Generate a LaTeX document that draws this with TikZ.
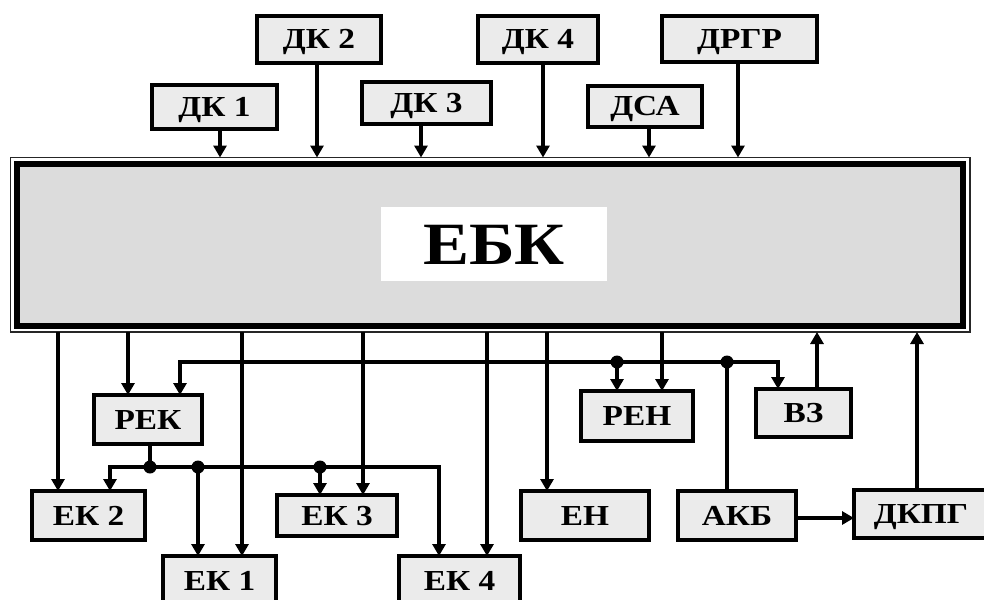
\documentclass[tikz,border=0pt]{standalone}
\usepackage{fontspec}
\setmainfont{Liberation Serif}[FakeStretch=1.15]
\usetikzlibrary{arrows.meta}
\definecolor{boxgray}{HTML}{EBEBEB}
\definecolor{maingray}{HTML}{DCDCDC}
\tikzset{
  blk/.style={draw=black, line width=4pt, fill=boxgray, rectangle, inner sep=0pt, outer sep=0pt,
    font=\fontsize{29}{29}\selectfont\bfseries, text height=19pt, text depth=0pt},
  con/.style={line width=3.5pt, draw=black},
  arr/.style={con, -{Triangle[length=12pt,width=13pt]}},
  dotn/.style={circle, fill=black, inner sep=0pt, minimum size=13pt},
}
\begin{document}
\begin{tikzpicture}[x=1pt,y=-1pt]
\path[use as bounding box] (0,0) rectangle (984,599);
\clip (0,0) rectangle (984,599);
\fill[white] (0,0) rectangle (984,599);
% main block
\node[draw=black!85, line width=1.5pt, rectangle, inner sep=0pt, outer sep=0pt,
  minimum width=959.5pt, minimum height=174.5pt] (ebk) at (490.25,244.75) {};
\draw[line width=6pt, fill=maingray] (16.5,164) rectangle (962.5,325.5);
\node[fill=white, minimum width=226pt, minimum height=74pt, inner sep=0pt,
  font=\fontsize{60}{60}\selectfont\bfseries, text height=40pt, text depth=0pt] (ebklabel) at (494,244) {ЕБК};
% top boxes
\node[blk, minimum width=125pt, minimum height=44pt] (dk1) at (214.5,107) {ДК 1};
\node[blk, minimum width=124pt, minimum height=47pt] (dk2) at (319,39.5) {ДК 2};
\node[blk, minimum width=129pt, minimum height=42pt] (dk3) at (426.5,103) {ДК 3};
\node[blk, minimum width=120pt, minimum height=47pt] (dk4) at (538,39.5) {ДК 4};
\node[blk, minimum width=114pt, minimum height=41pt] (dsa) at (645,106.5) {ДСА};
\node[blk, minimum width=155pt, minimum height=46pt] (drgr) at (739.5,39) {ДРГР};
% top arrows
\draw[arr] ([xshift=5.5pt]dk1.south) -- ([xshift=5.5pt]dk1.south |- ebk.north);
\draw[arr] ([xshift=-2pt]dk2.south) -- ([xshift=-2pt]dk2.south |- ebk.north);
\draw[arr] ([xshift=-5.5pt]dk3.south) -- ([xshift=-5.5pt]dk3.south |- ebk.north);
\draw[arr] ([xshift=5pt]dk4.south) -- ([xshift=5pt]dk4.south |- ebk.north);
\draw[arr] ([xshift=4pt]dsa.south) -- ([xshift=4pt]dsa.south |- ebk.north);
\draw[arr] ([xshift=-1.5pt]drgr.south) -- ([xshift=-1.5pt]drgr.south |- ebk.north);
% bottom boxes
\node[blk, minimum width=108pt, minimum height=49pt] (rek) at (148,419.5) {РЕК};
\node[blk, minimum width=113pt, minimum height=49pt] (ek2) at (88.5,515.5) {ЕК 2};
\node[blk, minimum width=113pt, minimum height=49pt] (ek1) at (219.5,580.5) {ЕК 1};
\node[blk, minimum width=120pt, minimum height=41pt] (ek3) at (337,515.5) {ЕК 3};
\node[blk, minimum width=121pt, minimum height=49pt] (ek4) at (459.5,580.5) {ЕК 4};
\node[blk, minimum width=128pt, minimum height=49pt] (en) at (585,515.5) {ЕН};
\node[blk, minimum width=112pt, minimum height=50pt] (ren) at (637,416) {РЕН};
\node[blk, minimum width=95pt, minimum height=48pt] (vz) at (803.5,413) {ВЗ};
\node[blk, minimum width=118pt, minimum height=49pt] (akb) at (737,515.5) {АКБ};
\node[blk, minimum width=134pt, minimum height=48pt] (dkpg) at (921,514) {ДКПГ};
% outputs of the main block
\draw[arr] ([xshift=-30.5pt]ek2.north |- ebk.south) -- ([xshift=-30.5pt]ek2.north);
\draw[arr] ([xshift=-20pt]rek.north |- ebk.south) -- ([xshift=-20pt]rek.north);
\draw[arr] ([xshift=22.5pt]ek1.north |- ebk.south) -- ([xshift=22.5pt]ek1.north);
\draw[arr] ([xshift=26pt]ek3.north |- ebk.south) -- ([xshift=26pt]ek3.north);
\draw[arr] ([xshift=27.5pt]ek4.north |- ebk.south) -- ([xshift=27.5pt]ek4.north);
\draw[arr] ([xshift=-38pt]en.north |- ebk.south) -- ([xshift=-38pt]en.north);
\draw[arr] ([xshift=25pt]ren.north |- ebk.south) -- ([xshift=25pt]ren.north);
% inputs to the main block
\draw[arr] ([xshift=13.5pt]vz.north) -- ([xshift=13.5pt]vz.north |- ebk.south);
\draw[arr] ([xshift=-4pt]dkpg.north) -- ([xshift=-4pt]dkpg.north |- ebk.south);
% upper bus (from АКБ)
\coordinate (b1L) at (180,362);
\coordinate (b1R) at (778,362);
\node[dotn] (d1) at (617,362) {};
\node[dotn] (d2) at (727,362) {};
\draw[con] ([xshift=-10pt]akb.north) -- (d2.center);
\draw[arr] (d2.center) -- (b1L) -- (b1L |- rek.north);
\draw[arr] (d2.center) -- (b1R) -- (b1R |- vz.north);
\draw[arr] (d1.center) -- (d1.center |- ren.north);
% lower bus (from РЕК)
\coordinate (b2L) at (110,467);
\coordinate (b2R) at (439,467);
\node[dotn] (d3) at (150,467) {};
\node[dotn] (d4) at (198,467) {};
\node[dotn] (d5) at (320,467) {};
\draw[con] (rek.south -| d3) -- (d3.center);
\draw[arr] (d3.center) -- (b2L) -- (b2L |- ek2.north);
\draw[arr] (d3.center) -- (b2R) -- (b2R |- ek4.north);
\draw[arr] (d4.center) -- (d4.center |- ek1.north);
\draw[arr] (d5.center) -- (d5.center |- ek3.north);
% АКБ to ДКПГ
\draw[arr] ([yshift=-2.5pt]akb.east) -- ([yshift=-2.5pt]akb.east -| dkpg.west);
\end{tikzpicture}
\end{document}
